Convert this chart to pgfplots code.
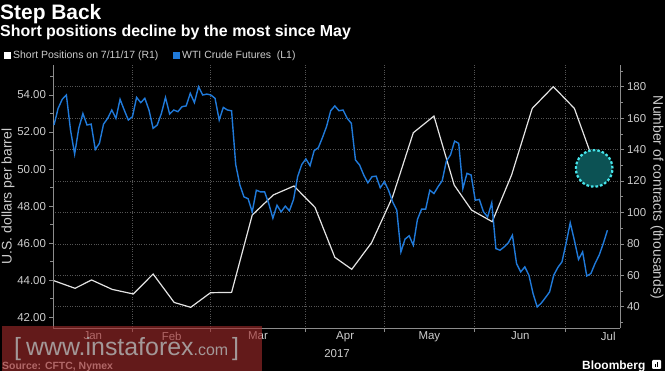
\documentclass[border=0pt]{standalone}
\usepackage{pgfplots}
\pgfplotsset{compat=1.18}
\usepackage{fontspec}
\setmainfont{Liberation Sans}
\definecolor{bblue}{RGB}{32,122,218}
\definecolor{wline}{RGB}{228,228,228}
\definecolor{ticktxt}{RGB}{205,205,205}
\definecolor{gridc}{RGB}{85,85,85}
\definecolor{axisc}{RGB}{140,140,140}
\definecolor{tealfill}{RGB}{12,82,84}
\definecolor{tealedge}{RGB}{70,228,234}
\definecolor{wmred}{RGB}{160,42,42}
\definecolor{wmtext}{RGB}{175,175,175}

\pgfplotsset{
  base/.style={
    at={(53bp,42.7bp)}, anchor=south west,
    scale only axis, width=567bp, height=263.3bp,
    xmin=-0.24, xmax=137.05,
    axis line style={axisc, line width=0.6bp},
    tick style={axisc, line width=0.6bp},
    tick align=outside,
    major tick length=3.5bp, minor tick length=2.5bp,
    tick label style={text=ticktxt, font=\fontsize{11.5}{12}\selectfont},
    /pgf/number format/assume math mode=true,
  }
}

\begin{document}
\begin{tikzpicture}
\useasboundingbox (0,0) rectangle (665bp,371bp);
\fill[black] (0,0) rectangle (665bp,371bp);

% right axis: grids, highlight, short positions
\begin{axis}[base,
  ymin=26.25, ymax=193.8,
  axis y line*=right, axis x line*=bottom,
  ytick={40,60,...,180}, minor ytick={30,50,...,190},
  xtick={19.05,37.9,60.9,80.0,101.8,123.9},
  xticklabels={,,,,,},
  grid=major, major grid style={gridc, dotted, line width=0.6bp},
]
\addplot[only marks, mark=*, mark size=18.3bp,
  mark options={fill=tealfill, draw=tealedge, line width=2.2bp, dash pattern=on 2.6bp off 2bp}]
  coordinates {(130.8,128)};
\addplot[wline, line width=1.2bp] coordinates {
(0,56.5)(5.1,51.7)(9.1,57.0)(14.1,51.0)(19.2,48.1)(24.0,60.8)(29.1,42.7)(33.1,39.6)
(37.9,48.9)(43.0,49.1)(48.0,98.3)(53.1,111.1)(58.1,116.8)(63.2,103.2)(68.0,71.4)
(72.1,63.8)(76.9,80.7)(82.0,110)(87.0,150.7)(92.0,161.3)(96.9,117.4)(101.1,101.5)
(106.1,94.1)(110.8,123.8)(115.8,166.2)(120.9,180)(126.0,166.2)(130.8,131.2)};
\end{axis}

% left axis: WTI crude
\begin{axis}[base,
  ymin=41.405, ymax=55.62,
  axis y line*=left, axis x line*=bottom,
  ytick={42,44,...,54}, minor ytick={43,45,...,55},
  yticklabel style={/pgf/number format/fixed, /pgf/number format/fixed zerofill, /pgf/number format/precision=2},
  xtick={19.05,37.9,60.9,80.0,101.8,123.9},
  xticklabels={,,,,,},
  extra x ticks={9.4,28.5,49.4,70.5,90.9,112.9,134.2},
  extra x tick labels={Jan,Feb,Mar,Apr,May,Jun,Jul},
  extra x tick style={tickwidth=0pt},
]
\addplot[bblue, line width=1.4bp] coordinates {
(0,52.38)(1,53.28)(2,53.77)(3,54.00)(4,52.11)(5,50.81)(6,52.20)(7,53.00)(8,52.38)(9,52.43)
(10,51.06)(11,51.39)(12,52.43)(13,52.74)(14,53.19)(15,52.74)(16,53.77)(17,53.19)(18,52.65)(19,52.83)
(20,53.87)(21,53.59)(22,53.82)(23,53.19)(24,52.20)(25,52.38)(26,53.00)(27,53.87)(28,52.97)(29,53.19)
(30,53.10)(31,53.37)(32,53.41)(33,54.09)(34,53.59)(35,54.45)(36,54.00)(37,54.05)(38,54.00)(39,53.82)
(40,52.65)(41,53.33)(42,53.19)(43,53.15)(44,50.25)(45,49.15)(46,48.50)(47,48.40)(48,47.69)(49,48.86)
(50,48.77)(51,48.77)(52,48.14)(53,47.35)(54,48.05)(55,47.69)(56,48.00)(57,47.75)(58,48.36)(59,49.60)
(60,50.25)(61,50.55)(62,50.18)(63,51.00)(64,51.15)(65,51.70)(66,52.30)(67,53.15)(68,53.41)(69,53.15)
(70,53.19)(71,52.74)(72,52.47)(73,50.49)(74,50.22)(75,49.68)(76,49.26)(77,49.59)(78,49.62)(79,48.99)
(80,49.32)(81,48.86)(82,48.23)(83,47.78)(84,45.53)(85,46.22)(86,46.40)(87,45.89)(88,47.28)(89,47.84)
(90,47.84)(91,48.86)(92,48.68)(93,49.05)(94,49.37)(95,50.43)(96,50.76)(97,51.51)(98,51.39)(99,48.95)
(100,49.77)(101,49.68)(102,48.32)(103,48.36)(104,47.69)(105,47.42)(106,48.18)(107,45.71)(108,45.62)(109,45.80)
(110,46.02)(111,46.43)(112,44.90)(113,44.45)(114,44.72)(115,44.27)(116,43.28)(117,42.56)(118,42.77)(119,43.06)
(120,43.37)(121,44.27)(122,44.69)(123,44.99)(124,46.00)(125,47.10)(126,46.16)(127,45.12)(128,45.53)(129,44.23)
(130,44.36)(131,44.90)(132,45.35)(133,45.98)(134,46.70)};
\end{axis}

% titles and legend
\node[anchor=base west, inner sep=0pt, text=white, font=\fontsize{21}{21}\selectfont\bfseries] at (0bp,351bp) {Step Back};
\node[anchor=base west, inner sep=0pt, text=white, font=\fontsize{16}{16}\selectfont\bfseries] at (0bp,334bp) {Short positions decline by the most since May};
\node[anchor=base west, inner sep=0pt, text=ticktxt, font=\fontsize{10.5}{10.5}\selectfont] at (4bp,312bp)
  {{\color{white}\rule{7bp}{7bp}}\hspace{2bp}Short Positions on 7/11/17 (R1)};
\node[anchor=base west, inner sep=0pt, text=ticktxt, font=\fontsize{10.5}{10.5}\selectfont] at (173bp,312bp)
  {{\color{bblue}\rule{7bp}{7bp}}\hspace{2bp}WTI Crude Futures\ \ (L1)};

% axis titles
\node[rotate=90, text=ticktxt, font=\fontsize{14}{14}\selectfont] at (8bp,174.5bp) {U.S. dollars per barrel};
\node[rotate=-90, text=ticktxt, font=\fontsize{14}{14}\selectfont] at (657bp,173.5bp) {Number of contracts (thousands)};
\node[anchor=base, inner sep=0pt, text=ticktxt, font=\fontsize{11.5}{12}\selectfont] at (337bp,14bp) {2017};

% footer
\node[anchor=base west, inner sep=0pt, text=ticktxt, font=\fontsize{10.5}{10.5}\selectfont\bfseries] at (2bp,2bp) {Source: CFTC, Nymex};
\node[anchor=base west, inner sep=0pt, text=white, font=\fontsize{12}{12}\selectfont\bfseries] at (582bp,2bp) {Bloomberg};
\fill[white, rounded corners=1bp] (652bp,2bp) rectangle (661bp,11bp);
\fill[black] (654.5bp,4bp) rectangle (655.8bp,7bp);
\fill[black] (656.8bp,4bp) rectangle (658.1bp,9bp);

% watermark overlay
\fill[wmred, opacity=0.62] (2bp,0bp) rectangle (262bp,45bp);
\node[anchor=base west, inner sep=0pt, text=wmtext, opacity=0.85, font=\fontsize{25}{25}\selectfont] at (14bp,16bp)
  {[\hspace{5bp}www.instaforex{\fontsize{16}{16}\selectfont .com}\hspace{4bp}]};
\end{tikzpicture}
\end{document}
